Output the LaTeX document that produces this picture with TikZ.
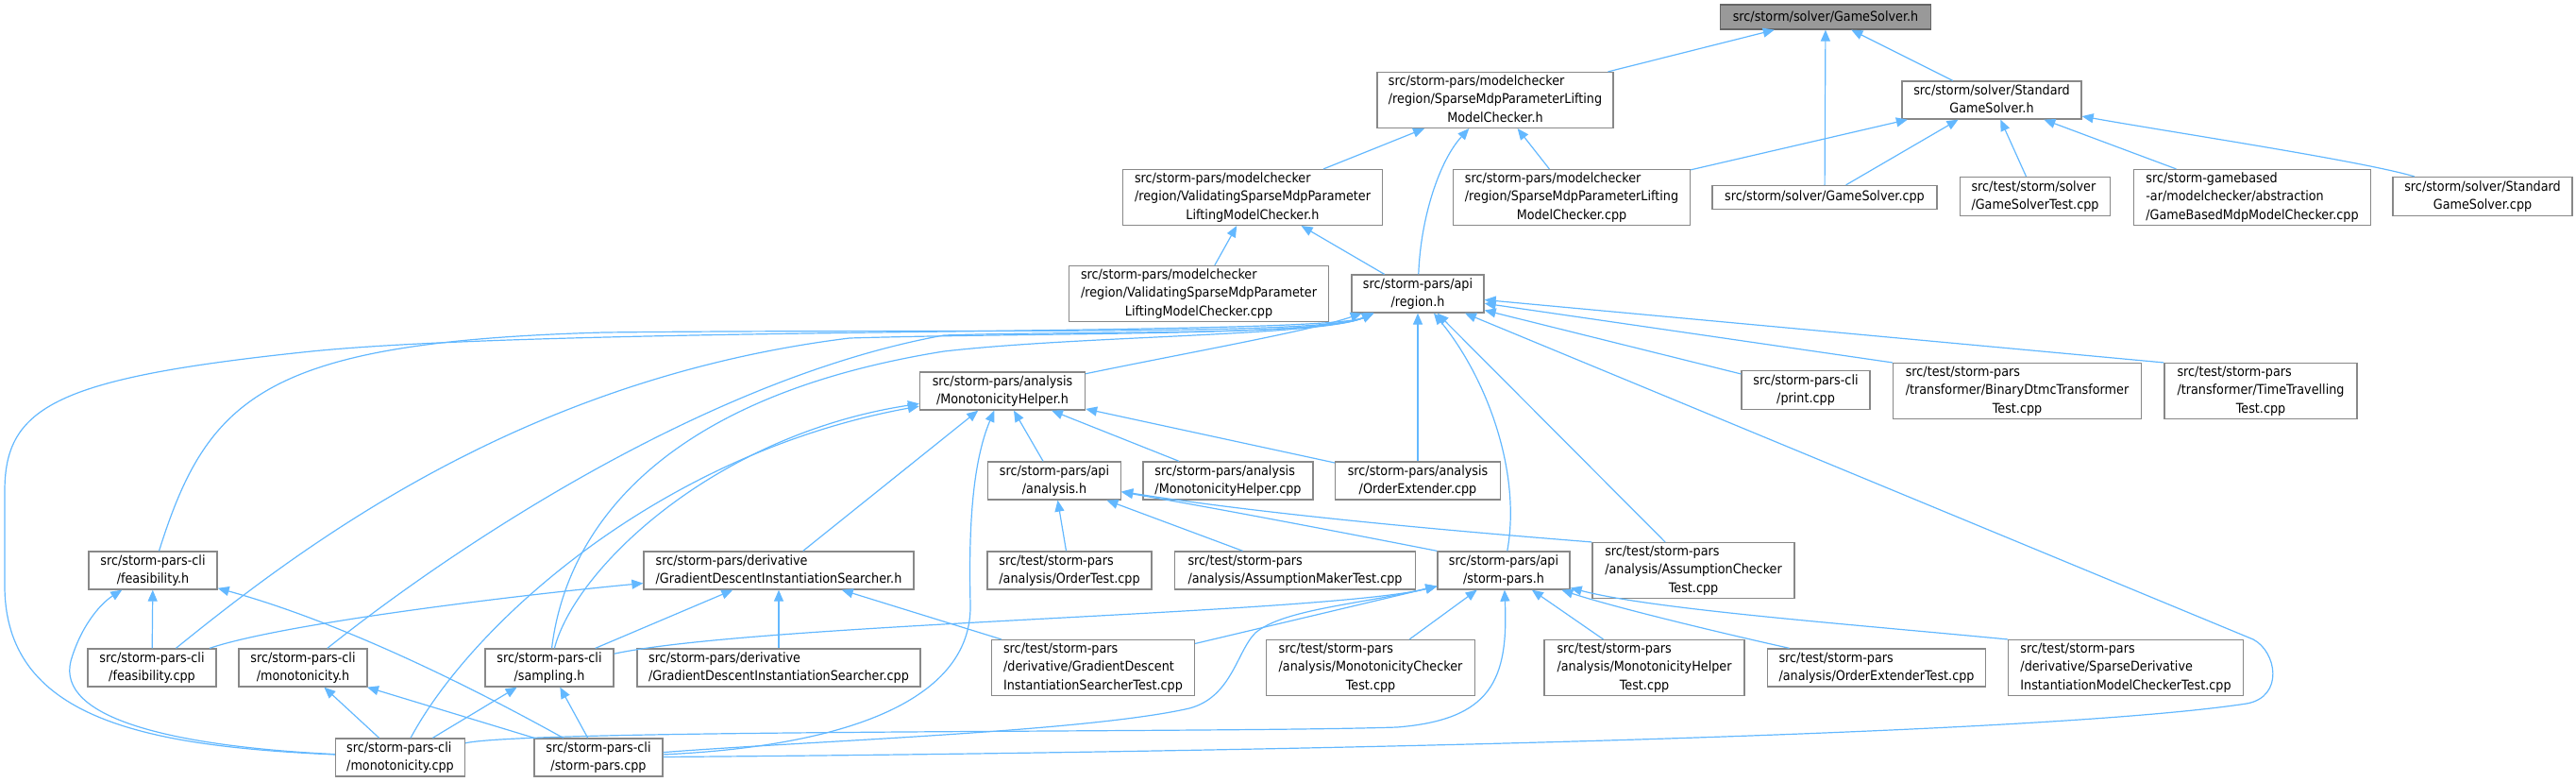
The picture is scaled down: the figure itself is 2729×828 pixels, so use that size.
\documentclass[tikz,border=0pt]{standalone}
\usepackage{fontspec}
\setmainfont{DejaVu Sans}[FakeStretch=0.9]
\usetikzlibrary{arrows.meta}
\definecolor{edgeblue}{HTML}{63B8FF}
\definecolor{boxgray}{HTML}{888888}
\definecolor{rootgray}{HTML}{999999}
\newcommand{\fname}[2]{\begin{tabular}{@{}l@{}}#1\\\multicolumn{1}{@{}c@{}}{#2}\end{tabular}}
\begin{document}
\begin{tikzpicture}[x=0.5pt, y=0.5pt, >={Triangle[length=6pt, width=5pt]},
        box/.style={draw=boxgray, line width=0.65pt, fill=white, inner sep=0pt, font=\fontsize{7.1}{9.8}\selectfont},
        wh/.style 2 args={minimum width=#1*0.5pt, minimum height=#2*0.5pt},
        edge/.style={->, draw=edgeblue, line width=0.6pt}]
    \useasboundingbox (0,0) rectangle (2729,-828);
    \node[box, fill=rootgray, draw=gray!80!black, wh={223}{26}] (gs) at (1934,-18) {src/storm/solver/GameSolver.h};
    \node[box, wh={250}{54}] (smlh) at (1584,-106) {\fname{src/storm-pars/modelchecker\\/region/SparseMdpParameterLifting}{ModelChecker.h}};
    \node[box, wh={190}{40}] (sgsh) at (2110,-106) {\fname{src/storm/solver/Standard}{GameSolver.h}};
    \node[box, wh={275}{55}] (valh) at (1327,-209) {\fname{src/storm-pars/modelchecker\\/region/ValidatingSparseMdpParameter}{LiftingModelChecker.h}};
    \node[box, wh={251}{55}] (smlcpp) at (1665,-209) {\fname{src/storm-pars/modelchecker\\/region/SparseMdpParameterLifting}{ModelChecker.cpp}};
    \node[box, wh={238}{25}] (gscpp) at (1933,-209) {src/storm/solver/GameSolver.cpp};
    \node[box, wh={159}{41}] (gstest) at (2156,-208) {\fname{src/test/storm/solver}{/GameSolverTest.cpp}};
    \node[box, wh={251}{55}] (gamebased) at (2386,-209) {\fname{src/storm-gamebased\\-ar/modelchecker/abstraction}{/GameBasedMdpModelChecker.cpp}};
    \node[box, wh={190}{41}] (sgscpp) at (2630,-208) {\fname{src/storm/solver/Standard}{GameSolver.cpp}};
    \node[box, wh={275}{55}] (valcpp) at (1270,-311) {\fname{src/storm-pars/modelchecker\\/region/ValidatingSparseMdpParameter}{LiftingModelChecker.cpp}};
    \node[box, wh={140}{40}] (region) at (1502,-311) {\fname{src/storm-pars/api}{/region.h}};
    \node[box, wh={136}{41}] (print) at (1913,-413) {\fname{src/storm-pars-cli}{/print.cpp}};
    \node[box, wh={263}{54}] (binary) at (2137,-414) {\fname{src/test/storm-pars\\/transformer/BinaryDtmcTransformer}{Test.cpp}};
    \node[box, wh={204}{54}] (timetrav) at (2395,-414) {\fname{src/test/storm-pars\\/transformer/TimeTravelling}{Test.cpp}};
    \node[box, wh={175}{40}] (mhh) at (1062,-414) {\fname{src/storm-pars/analysis}{/MonotonicityHelper.h}};
    \node[box, wh={141}{40}] (analysis) at (1117,-509) {\fname{src/storm-pars/api}{/analysis.h}};
    \node[box, wh={180}{40}] (mhcpp) at (1301,-509) {\fname{src/storm-pars/analysis}{/MonotonicityHelper.cpp}};
    \node[box, wh={175}{40}] (oecpp) at (1502,-509) {\fname{src/storm-pars/analysis}{/OrderExtender.cpp}};
    \node[box, wh={286}{40}] (gdh) at (825,-604) {\fname{src/storm-pars/derivative}{/GradientDescentInstantiationSearcher.h}};
    \node[box, wh={174}{40}] (ordertest) at (1133,-604) {\fname{src/test/storm-pars}{/analysis/OrderTest.cpp}};
    \node[box, wh={255}{40}] (amtest) at (1372,-604) {\fname{src/test/storm-pars}{/analysis/AssumptionMakerTest.cpp}};
    \node[box, wh={140}{40}] (spars) at (1593,-604) {\fname{src/storm-pars/api}{/storm-pars.h}};
    \node[box, wh={214}{55}] (actest) at (1794,-604) {\fname{src/test/storm-pars\\/analysis/AssumptionChecker}{Test.cpp}};
    \node[box, wh={136}{40}] (feash) at (162,-604) {\fname{src/storm-pars-cli}{/feasibility.h}};
    \node[box, wh={136}{40}] (feascpp) at (161,-707) {\fname{src/storm-pars-cli}{/feasibility.cpp}};
    \node[box, wh={136}{40}] (monoh) at (321,-707) {\fname{src/storm-pars-cli}{/monotonicity.h}};
    \node[box, wh={136}{40}] (sampling) at (582,-707) {\fname{src/storm-pars-cli}{/sampling.h}};
    \node[box, wh={300}{40}] (gdcpp) at (825,-707) {\fname{src/storm-pars/derivative}{/GradientDescentInstantiationSearcher.cpp}};
    \node[box, wh={215}{54}] (gdtest) at (1158,-707) {\fname{src/test/storm-pars\\/derivative/GradientDescent}{InstantiationSearcherTest.cpp}};
    \node[box, wh={221}{54}] (mctest) at (1452,-707) {\fname{src/test/storm-pars\\/analysis/MonotonicityChecker}{Test.cpp}};
    \node[box, wh={212}{54}] (mhtest) at (1742,-707) {\fname{src/test/storm-pars\\/analysis/MonotonicityHelper}{Test.cpp}};
    \node[box, wh={231}{40}] (oetest) at (1988,-707) {\fname{src/test/storm-pars}{/analysis/OrderExtenderTest.cpp}};
    \node[box, wh={249}{54}] (sdtest) at (2252,-707) {\fname{src/test/storm-pars\\/derivative/SparseDerivative}{InstantiationModelCheckerTest.cpp}};
    \node[box, wh={137}{40}] (monocpp) at (424,-802) {\fname{src/storm-pars-cli}{/monotonicity.cpp}};
    \node[box, wh={136}{40}] (sparscpp) at (634,-802) {\fname{src/storm-pars-cli}{/storm-pars.cpp}};
    \draw[edge] (smlh) -- (gs);
    \draw[edge] (gscpp) -- (gs);
    \draw[edge] (sgsh) -- (gs);
    \draw[edge] (valh) -- (smlh);
    \draw[edge] (smlcpp) -- (smlh);
    \draw[edge] (region) .. controls (1505,-230) and (1525,-170) .. (smlh);
    \draw[edge] (smlcpp) -- (sgsh);
    \draw[edge] (gscpp) -- (sgsh);
    \draw[edge] (gstest) -- (sgsh);
    \draw[edge] (gamebased) -- (sgsh);
    \draw[edge] (sgscpp) .. controls (2500,-170) and (2300,-140) .. (sgsh);
    \draw[edge] (valcpp) -- (valh);
    \draw[edge] (region) -- (valh);
    \draw[edge] (mhh) .. controls (1250,-375) and (1390,-350) .. (region);
    \draw[edge] (print) -- (region);
    \draw[edge] (binary.north west) -- (region);
    \draw[edge] (timetrav.north west) -- (region);
    \draw[edge] (oecpp) -- (region);
    \draw[edge] (spars) .. controls (1612,-500) and (1575,-400) .. (region);
    \draw[edge] (actest) -- (region);
    \draw[edge] (sparscpp) .. controls (1300,-797) and (2150,-780) .. (2380,-745) .. controls (2420,-738) and (2412,-690) .. (2387,-677) -- (region);
    \draw[edge] (feash) .. controls (220,-420) and (280,-362) .. (640,-352) .. controls (1000,-348) and (1400,-356) .. (region);
    \draw[edge] (feascpp) .. controls (330,-570) and (560,-400) .. (900,-358) .. controls (1100,-352) and (1400,-356) .. (region);
    \draw[edge] (monoh) .. controls (480,-580) and (750,-400) .. (1000,-355) .. controls (1150,-350) and (1400,-356) .. (region);
    \draw[edge] (sampling) .. controls (600,-560) and (700,-420) .. (1000,-372) .. controls (1150,-355) and (1400,-356) .. (region);
    \draw[edge] (monocpp) .. controls (150,-790) and (5,-760) .. (5,-620) -- (5,-520) .. controls (5,-430) and (60,-400) .. (330,-372) .. controls (600,-345) and (1400,-356) .. (region);
    \draw[edge] (gdh) -- (mhh);
    \draw[edge] (sparscpp) .. controls (900,-790) and (1030,-740) .. (1028,-640) .. controls (1026,-560) and (1030,-490) .. (mhh);
    \draw[edge] (analysis) -- (mhh);
    \draw[edge] (mhcpp) -- (mhh);
    \draw[edge] (oecpp) -- (mhh);
    \draw[edge] (sampling) .. controls (610,-600) and (760,-460) .. (mhh);
    \draw[edge] (monocpp) .. controls (500,-660) and (700,-480) .. (mhh);
    \draw[edge] (ordertest) -- (analysis);
    \draw[edge] (amtest) -- (analysis);
    \draw[edge] (spars.north west) .. controls (1480,-575) and (1300,-540) .. (analysis);
    \draw[edge] (actest.north west) .. controls (1600,-567) and (1360,-548) .. (analysis);
    \draw[edge] (feascpp) .. controls (300,-660) and (550,-630) .. (gdh);
    \draw[edge] (gdcpp) -- (gdh);
    \draw[edge] (gdtest) -- (gdh);
    \draw[edge] (sampling) -- (gdh);
    \draw[edge] (sampling) .. controls (800,-660) and (1400,-650) .. (spars);
    \draw[edge] (gdtest) -- (spars);
    \draw[edge] (monocpp) .. controls (560,-772) and (1300,-776) .. (1480,-770) .. controls (1580,-762) and (1598,-720) .. (spars);
    \draw[edge] (sparscpp) .. controls (850,-785) and (1150,-775) .. (1260,-750) .. controls (1305,-738) and (1310,-690) .. (1330,-670) .. controls (1360,-645) and (1440,-640) .. (spars);
    \draw[edge] (mctest) -- (spars);
    \draw[edge] (mhtest) -- (spars);
    \draw[edge] (oetest) .. controls (1800,-665) and (1700,-640) .. (spars);
    \draw[edge] (sdtest.north west) .. controls (1950,-660) and (1750,-645) .. (spars);
    \draw[edge] (feascpp) -- (feash);
    \draw[edge] (monocpp) .. controls (180,-790) and (60,-760) .. (75,-700) .. controls (85,-665) and (105,-640) .. (feash);
    \draw[edge] (sparscpp) .. controls (450,-700) and (330,-650) .. (feash);
    \draw[edge] (monocpp) -- (monoh);
    \draw[edge] (sparscpp) -- (monoh);
    \draw[edge] (monocpp) -- (sampling);
    \draw[edge] (sparscpp) -- (sampling);
\end{tikzpicture}
\end{document}
